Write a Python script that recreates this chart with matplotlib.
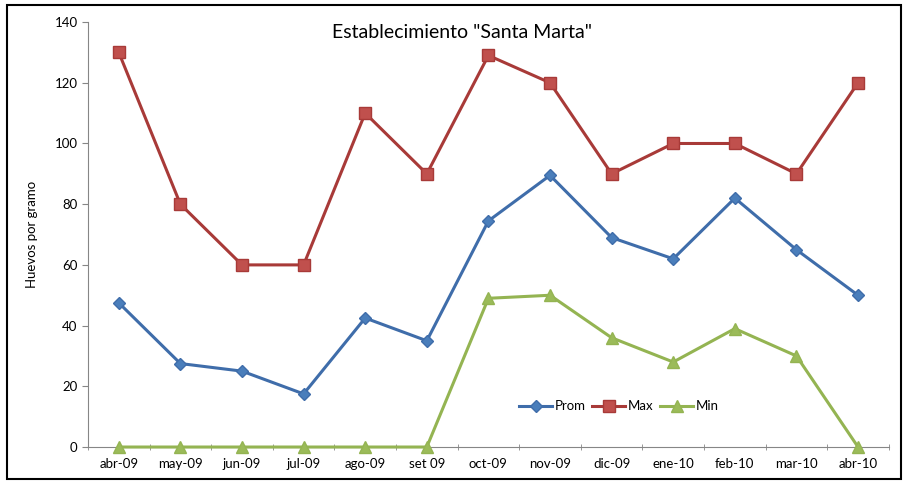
import numpy as np
import matplotlib.pyplot as plt
from matplotlib.patches import Rectangle

plt.rcParams['font.family'] = ['Lato', 'DejaVu Sans']

# Datos del gráfico
meses = ['abr-09', 'may-09', 'jun-09', 'jul-09', 'ago-09', 'set 09', 'oct-09',
         'nov-09', 'dic-09', 'ene-10', 'feb-10', 'mar-10', 'abr-10']
prom = [47.5, 27.5, 25, 17.5, 42.5, 35, 74.5, 89.5, 69, 62, 82, 65, 50]
maximo = [130, 80, 60, 60, 110, 90, 129, 120, 90, 100, 100, 90, 120]
minimo = [0, 0, 0, 0, 0, 0, 49, 50, 36, 28, 39, 30, 0]

fig = plt.figure(figsize=(9.07, 4.84), dpi=100)
ax = fig.add_axes([0.097, 0.0764, 0.883, 0.878])

x = np.arange(len(meses))
ax.plot(x, prom, color='#3F6DAA', lw=2.2, marker='D', ms=6,
        markerfacecolor='#4A7EBB', markeredgecolor='#3F6DAA', label='Prom')
ax.plot(x, maximo, color='#A83A38', lw=2.2, marker='s', ms=8,
        markerfacecolor='#C0504D', markeredgecolor='#A83A38', label='Max')
ax.plot(x, minimo, color='#94B452', lw=2.2, marker='^', ms=8,
        markerfacecolor='#9BBB59', markeredgecolor='#94B452', label='Min',
        clip_on=False, zorder=5)

ax.set_xlim(-0.5, len(meses) - 0.5)
ax.set_ylim(0, 140)
ax.set_yticks(range(0, 141, 20))
ax.set_xticks(x)
ax.set_xticklabels(meses, fontsize=9.5)
ax.set_xticks(np.arange(-0.5, len(meses), 1), minor=True)
ax.tick_params(axis='x', which='major', length=0, pad=8)
ax.tick_params(axis='x', which='minor', length=4, color='#868686', direction='inout')
ax.tick_params(axis='y', length=4, color='#868686', labelsize=9.5)

for s in ['top', 'right']:
    ax.spines[s].set_visible(False)
for s in ['left', 'bottom']:
    ax.spines[s].set_color('#868686')

ax.set_ylabel('Huevos por gramo', fontsize=9.5, labelpad=12)
fig.text(0.509, 0.932, 'Establecimiento "Santa Marta"', fontsize=14,
         ha='center', va='center')

ax.legend(loc='center', bbox_to_anchor=(0.663, 0.096), ncol=3, frameon=False,
          fontsize=9.5, handlelength=2.5, columnspacing=0.5, handletextpad=0.2)

# Marco exterior
fig.patches.append(Rectangle((0.008, 0.01), 0.985, 0.98, transform=fig.transFigure,
                             fill=False, edgecolor='black', lw=1.5))

plt.savefig('out.png', dpi=100)
